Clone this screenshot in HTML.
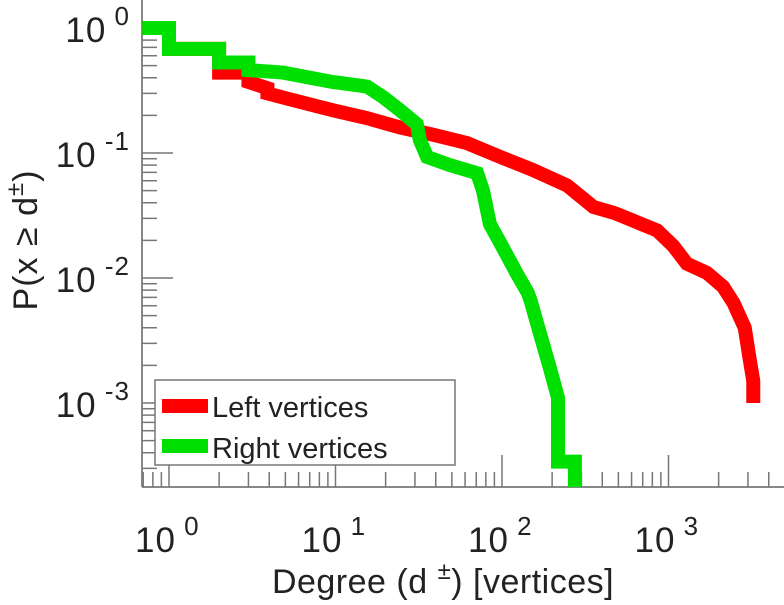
<!DOCTYPE html>
<html><head><meta charset="utf-8"><style>
body{margin:0;background:#fff;width:784px;height:600px;overflow:hidden}
svg text{font-family:"Liberation Sans",sans-serif;fill:#222}
</style></head><body>
<svg id="c" width="784" height="600"></svg>
<script>
const leftDeg=[0.69,1,1,2,2,3,3,3.9,3.9,5.56,9.6,15.5,24.4,38.6,61.6,97.7,154,246,354,477,855,1070,1290,1700,2130,2460,2870,3080,3230,3230];
const leftP=[1,1,0.68,0.68,0.44,0.44,0.37,0.33,0.3,0.265,0.22,0.19,0.16,0.14,0.12,0.093,0.073,0.055,0.037,0.033,0.024,0.018,0.013,0.011,0.0085,0.0063,0.004,0.0022,0.0015,0.001];
const rightDeg=[0.69,1,1,2,2,3,3,4.84,9.6,15.5,19.3,24.4,30.8,32.1,35.5,48.6,70.9,76.9,84.6,100,122,143,148,169,194,217,217,274,274];
const rightP=[1,1,0.68,0.68,0.53,0.53,0.46,0.44,0.37,0.34,0.28,0.22,0.17,0.127,0.093,0.08,0.069,0.05,0.027,0.018,0.011,0.0076,0.0067,0.0036,0.0019,0.0011,0.00034,0.00034,0.0001];
const xTicks=[0,1,2,3];
const yTicks=[0,-1,-2,-3];
const NS="http://www.w3.org/2000/svg";
const svg=document.getElementById('c');
const L=142,R=784,T=0,B=487;
const xs=d=>169+166.5*Math.log10(d);
const ys=p=>28-125*Math.log10(p);
function mk(t,a,p){const e=document.createElementNS(NS,t);for(const k in a)e.setAttribute(k,a[k]);(p||svg).appendChild(e);return e;}
const clip=mk('clipPath',{id:'cl'});mk('rect',{x:L,y:T,width:R-L,height:B-T},clip);
const ax=mk('line',{x1:L,y1:0,x2:L,y2:B,stroke:'#888','stroke-width':2});


const bx=mk('line',{x1:L,y1:B,x2:R,y2:B,stroke:'#888','stroke-width':2});


for(let e=1;e>=-4;e--){for(let m=1;m<10;m++){const v=m*Math.pow(10,e);const y=ys(v);if(y<T||y>B)continue;
const t=mk('line',{x1:L,y1:y,x2:L+(m==1?31:15),y2:y,stroke:'#777','stroke-width':1.5});

}}
for(let e=-1;e<=4;e++){for(let m=1;m<10;m++){const v=m*Math.pow(10,e);const x=xs(v);if(x<L||x>R)continue;
const t=mk('line',{x1:x,y1:B,x2:x,y2:B-(m==1?32:15),stroke:'#777','stroke-width':1.5});

}}
yTicks.forEach(e=>{const t=mk('text',{x:130,y:ys(Math.pow(10,e))+14,'text-anchor':'end','font-size':35,'letter-spacing':1});
t.innerHTML='10<tspan dy="-17" font-size="26"> '+(e==0?'0':e)+'</tspan>';

});
xTicks.forEach(e=>{const t=mk('text',{x:xs(Math.pow(10,e))-34,y:552,'font-size':35,'letter-spacing':1});
t.innerHTML='10<tspan dy="-17" font-size="26"> '+e+'</tspan>';

});
function series(D,P,col,name){const pts=D.map((d,i)=>xs(d)+','+ys(P[i])).join(' ');
const p=mk('polyline',{points:pts,fill:'none',stroke:col,'stroke-width':14,'stroke-linejoin':'miter','clip-path':'url(#cl)'});

}
series(leftDeg,leftP,'#ff0000','left-vertices-line');
series(rightDeg,rightP,'#00e000','right-vertices-line');
const g=mk('g',{});


mk('rect',{x:155,y:380,width:300,height:85,fill:'#fff',stroke:'#777','stroke-width':1.5},g);
mk('line',{x1:162,y1:406,x2:208,y2:406,stroke:'#ff0000','stroke-width':14},g);
mk('line',{x1:162,y1:446,x2:208,y2:446,stroke:'#00e000','stroke-width':14},g);
const l1=mk('text',{x:212,y:417,'font-size':29},g);l1.textContent='Left vertices';


const l2=mk('text',{x:212,y:458,'font-size':29},g);l2.textContent='Right vertices';


const xt=mk('text',{x:443,y:593,'text-anchor':'middle','font-size':34,'letter-spacing':0.5});
xt.innerHTML='Degree (d  <tspan dy="-14" font-size="24">±</tspan><tspan dy="14">) [vertices]</tspan>';


const yt=mk('text',{x:0,y:0,'text-anchor':'middle','font-size':34,'letter-spacing':1,transform:'translate(37,240) rotate(-90)'});
yt.innerHTML='P(x ≥ d<tspan dy="-14" font-size="24">±</tspan><tspan dy="14">)</tspan>';


</script>
</body></html>
